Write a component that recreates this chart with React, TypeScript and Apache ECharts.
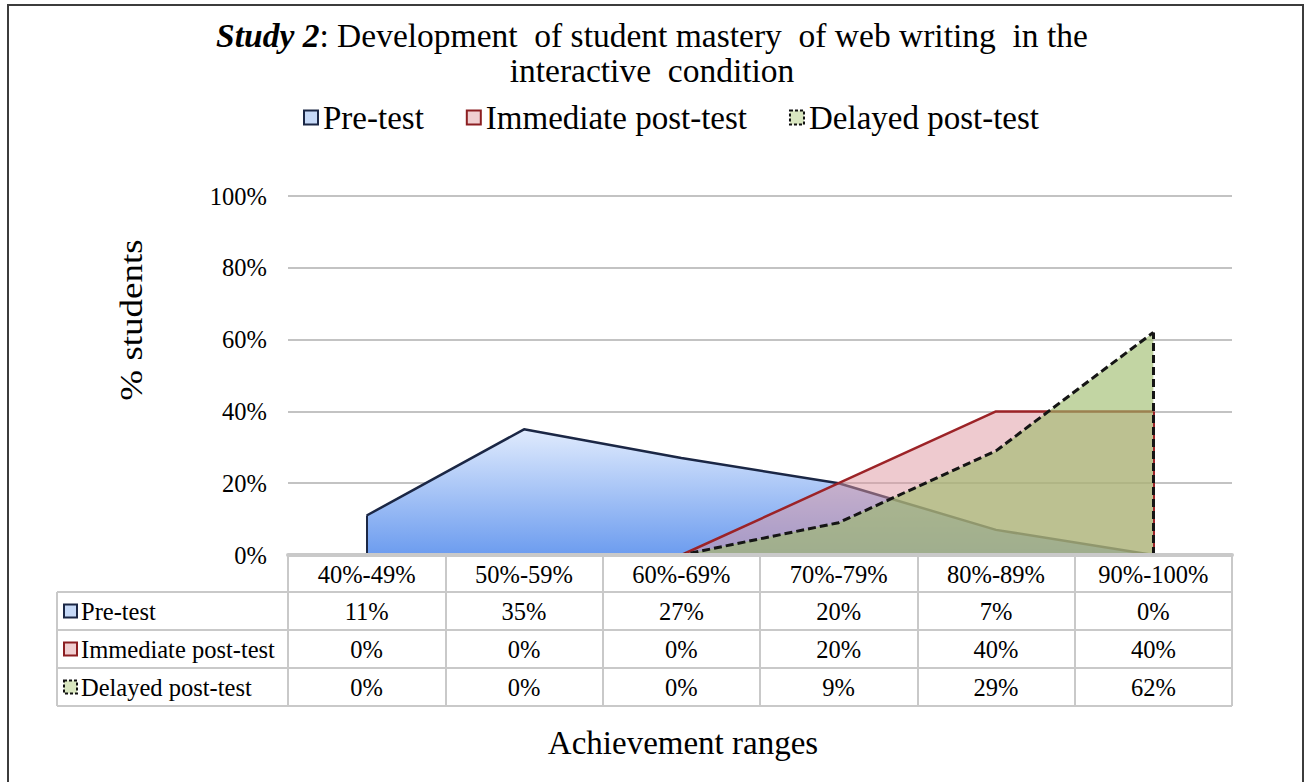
import React, { useEffect, useRef } from "react";
import * as echarts from "echarts";

const CATEGORIES = ["40%-49%", "50%-59%", "60%-69%", "70%-79%", "80%-89%", "90%-100%"];
const SERIES_NAMES = ["Pre-test", "Immediate post-test", "Delayed post-test"];
const PRE_TEST = [11, 35, 27, 20, 7, 0];
const IMMEDIATE_POST = [0, 0, 0, 20, 40, 40];
const DELAYED_POST = [0, 0, 0, 9, 29, 62];
const Y_MIN = 0;
const Y_MAX = 100;
const Y_INTERVAL = 20;

const FONT = "'Liberation Serif', 'Times New Roman', serif";
const GRID = { left: 288, top: 196, width: 944, height: 359 };
const ROW_LINES = [592, 630, 668, 706];
const TABLE_LEFT = 57;
const TABLE_COLOR = "#c9c9c9";
const TABLE_FONT = 24.5;

const STYLES = [
  { line: "#1b2745", fill: "#c6d9f7", border: "#1b2745", dashed: false, width: 2.5 },
  { line: "#9c2327", fill: "#f0cfd1", border: "#8c1f22", dashed: false, width: 2.5 },
  { line: "#151515", fill: "#d9e6c0", border: "#111111", dashed: true, width: 3 },
];

export default function App() {
  const ref = useRef<HTMLDivElement>(null);

  useEffect(() => {
    if (!ref.current) return;
    const chart = echarts.init(ref.current, null, { renderer: "svg" });
    const seriesData = [PRE_TEST, IMMEDIATE_POST, DELAYED_POST];
    const areaColors: any[] = [
      new echarts.graphic.LinearGradient(0, 0, 0, 1, [
        { offset: 0, color: "#e0ebfd" },
        { offset: 1, color: "#6c9cef" },
      ]),
      "rgba(222,150,160,0.5)",
      "rgba(156,188,106,0.62)",
    ];

    const verticalEdges = (data: number[]) => {
      const out: any[] = [];
      const last = data.length - 1;
      if (data[0] > 0) out.push([{ coord: [CATEGORIES[0], 0] }, { coord: [CATEGORIES[0], data[0]] }]);
      if (data[last] > 0) out.push([{ coord: [CATEGORIES[last], 0] }, { coord: [CATEGORIES[last], data[last]] }]);
      return out;
    };

    const series = SERIES_NAMES.map((name, i) => ({
      name,
      type: "line",
      data: seriesData[i],
      symbol: "none",
      z: 2 + i,
      lineStyle: {
        color: STYLES[i].line,
        width: STYLES[i].width,
        type: STYLES[i].dashed ? [8, 4] : "solid",
      },
      itemStyle: { color: STYLES[i].fill },
      areaStyle: { color: areaColors[i], opacity: 1 },
      markLine: {
        silent: true,
        symbol: ["none", "none"],
        label: { show: false },
        emphasis: { disabled: true },
        lineStyle: {
          color: STYLES[i].line,
          width: STYLES[i].dashed ? 3 : 2,
          type: STYLES[i].dashed ? [8, 4] : "solid",
        },
        data: verticalEdges(seriesData[i]),
      },
    }));

    chart.setOption({
      animation: false,
      backgroundColor: "#ffffff",
      title: {
        left: "center",
        top: 13,
        text: "{bi|Study 2}: Development  of student mastery  of web writing  in the\ninteractive  condition",
        textStyle: {
          fontFamily: FONT,
          fontSize: 33.5,
          fontWeight: "normal",
          color: "#000",
          lineHeight: 35,
          rich: {
            bi: { fontFamily: FONT, fontSize: 33.5, fontWeight: "bold", fontStyle: "italic", color: "#000", lineHeight: 35 },
          },
        },
      },
      legend: {
        top: 96,
        left: 298,
        icon: "rect",
        itemWidth: 14,
        itemHeight: 14,
        itemGap: 42,
        textStyle: { fontFamily: FONT, fontSize: 33, color: "#000" },
        data: SERIES_NAMES.map((name, i) => ({
          name,
          itemStyle: {
            color: STYLES[i].fill,
            borderColor: STYLES[i].border,
            borderWidth: 2,
            borderType: STYLES[i].dashed ? [3, 2] : "solid",
          },
        })),
      },
      grid: { ...GRID },
      xAxis: {
        type: "category",
        data: CATEGORIES,
        boundaryGap: true,
        z: 10,
        axisLine: { show: true, lineStyle: { color: TABLE_COLOR, width: 4 } },
        axisTick: { show: true, length: ROW_LINES[3] - (GRID.top + GRID.height), lineStyle: { color: TABLE_COLOR, width: 2 } },
        axisLabel: { fontFamily: FONT, fontSize: TABLE_FONT, color: "#000", margin: 7 },
        splitLine: { show: false },
      },
      yAxis: {
        type: "value",
        min: Y_MIN,
        max: Y_MAX,
        interval: Y_INTERVAL,
        axisLine: { show: false },
        axisTick: { show: false },
        axisLabel: { formatter: "{value}%", fontFamily: FONT, fontSize: 24.5, color: "#000", margin: 21 },
        splitLine: { lineStyle: { color: "#c3c3c3", width: 2 } },
      },
      series,
    });

    const gridRight = GRID.left + GRID.width;
    const gridBottom = GRID.top + GRID.height;
    const graphics: any[] = [];

    graphics.push({
      type: "rect",
      silent: true,
      shape: { x: 8, y: 5, width: 1295, height: 800 },
      style: { fill: "none", stroke: "#3c3c3c", lineWidth: 2 },
    });
    graphics.push({
      type: "text",
      silent: true,
      x: 131,
      y: 320,
      rotation: Math.PI / 2,
      scaleY: 0.88,
      style: { text: "% students", fontFamily: FONT, fontSize: 37, fill: "#000", textAlign: "center", textVerticalAlign: "middle", verticalAlign: "middle" },
    });
    graphics.push({
      type: "text",
      silent: true,
      x: 683,
      y: 743,
      style: { text: "Achievement ranges", fontFamily: FONT, fontSize: 33, fill: "#000", textAlign: "center", textVerticalAlign: "middle", verticalAlign: "middle" },
    });
    ROW_LINES.forEach((y) => {
      graphics.push({
        type: "line",
        silent: true,
        shape: { x1: TABLE_LEFT, y1: y, x2: gridRight, y2: y },
        style: { stroke: TABLE_COLOR, lineWidth: 2 },
      });
    });
    graphics.push({
      type: "line",
      silent: true,
      shape: { x1: TABLE_LEFT, y1: ROW_LINES[0], x2: TABLE_LEFT, y2: ROW_LINES[3] },
      style: { stroke: TABLE_COLOR, lineWidth: 2 },
    });
    graphics.push({
      type: "line",
      silent: true,
      shape: { x1: GRID.left, y1: gridBottom, x2: GRID.left, y2: ROW_LINES[3] },
      style: { stroke: TABLE_COLOR, lineWidth: 2 },
    });

    SERIES_NAMES.forEach((name, r) => {
      const yc = (ROW_LINES[r] + ROW_LINES[r + 1]) / 2;
      graphics.push({
        type: "rect",
        silent: true,
        shape: { x: 64, y: yc - 6.5, width: 13, height: 13 },
        style: {
          fill: STYLES[r].fill,
          stroke: STYLES[r].border,
          lineWidth: 2,
          lineDash: STYLES[r].dashed ? [3, 2] : null,
        },
      });
      graphics.push({
        type: "text",
        silent: true,
        x: 81,
        y: yc,
        style: { text: name, fontFamily: FONT, fontSize: TABLE_FONT, fill: "#000", textAlign: "left", textVerticalAlign: "middle", verticalAlign: "middle" },
      });
      seriesData[r].forEach((v, c) => {
        const x = chart.convertToPixel({ xAxisIndex: 0 }, CATEGORIES[c]) as number;
        graphics.push({
          type: "text",
          silent: true,
          x,
          y: yc,
          style: { text: v + "%", fontFamily: FONT, fontSize: TABLE_FONT, fill: "#000", textAlign: "center", textVerticalAlign: "middle", verticalAlign: "middle" },
        });
      });
    });

    chart.setOption({ graphic: graphics });

    return () => chart.dispose();
  }, []);

  return (
    <div
      ref={ref}
      style={{ position: "fixed", left: 0, top: 0, width: 1304, height: 782, background: "#fff" }}
    />
  );
}
